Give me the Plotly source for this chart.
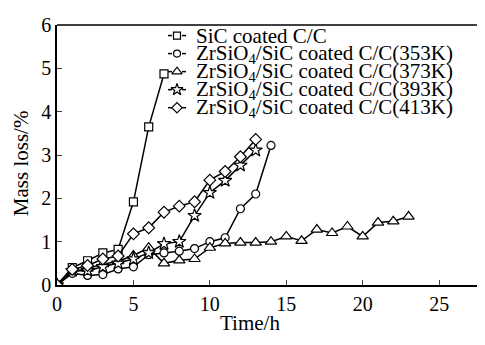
import plotly.graph_objects as go

# Data (Time/h vs Mass loss/%)
t_sic = [0, 1, 2, 3, 4, 5, 6, 7]
m_sic = [0, 0.40, 0.56, 0.74, 0.82, 1.92, 3.65, 4.87]

t_353 = list(range(0, 15))
m_353 = [0, 0.27, 0.22, 0.24, 0.37, 0.42, 0.70, 0.74, 0.78, 0.84, 1.00, 1.09, 1.76, 2.10, 3.22]

t_373 = list(range(0, 24))
m_373 = [0, 0.30, 0.38, 0.48, 0.55, 0.68, 0.86, 0.50, 0.57, 0.60, 0.86, 0.96, 0.98, 0.98,
         1.00, 1.12, 1.02, 1.28, 1.20, 1.35, 1.12, 1.44, 1.47, 1.58]

t_393 = list(range(0, 14))
m_393 = [0, 0.33, 0.33, 0.42, 0.50, 0.60, 0.74, 0.95, 1.00, 1.60, 2.13, 2.41, 2.76, 3.11]

t_413 = list(range(0, 14))
m_413 = [0, 0.36, 0.45, 0.60, 0.67, 1.18, 1.32, 1.68, 1.82, 1.92, 2.42, 2.62, 2.96, 3.36]

x_ticks = [0, 5, 10, 15, 20, 25]
y_ticks = [0, 1, 2, 3, 4, 5, 6]
X_MAX, Y_MAX = 28, 6

names = ["SiC coated C/C",
         "ZrSiO<sub>4</sub>/SiC coated C/C(353K)",
         "ZrSiO<sub>4</sub>/SiC coated C/C(373K)",
         "ZrSiO<sub>4</sub>/SiC coated C/C(393K)",
         "ZrSiO<sub>4</sub>/SiC coated C/C(413K)"]
symbols = ["square", "circle", "triangle-up", "star", "diamond"]
sizes = [8, 8, 10, 10, 9]
series = [(t_sic, m_sic), (t_353, m_353), (t_373, m_373), (t_393, m_393), (t_413, m_413)]

FONT = "Liberation Serif, Times New Roman, serif"

# The page has an 8px body margin before the figure.
PAGE_OFF = 8
PLOT_L, PLOT_R, PLOT_T, PLOT_B = 57, 485, 14, 285  # plot-area edges in page pixels
pw = PLOT_R - PLOT_L
ph = PLOT_B - PLOT_T


def px_to_x(px):
    return (px - PLOT_L) / pw * X_MAX


def py_to_y(py):
    return (PLOT_B - py) / ph * Y_MAX


fig = go.Figure()
for (x, y), n, s, sz in zip(series, names, symbols, sizes):
    fig.add_trace(go.Scatter(
        x=x, y=y, name=n, mode="lines+markers", showlegend=False,
        line=dict(color="black", width=1.5),
        marker=dict(symbol=s, size=sz, color="white", line=dict(color="black", width=1.2)),
    ))

# Hand-drawn legend ("-□-" style keys), placed in page pixels
LEG_MARK_X = 177
LEG_TEXT_X = 194
LEG_ROW0 = 25
LEG_DY = 18.8
annotations = []
for i, (n, s, sz) in enumerate(zip(names, symbols, sizes)):
    yy = LEG_ROW0 + i * LEG_DY
    fig.add_trace(go.Scatter(
        x=[px_to_x(LEG_MARK_X - 9), px_to_x(LEG_MARK_X - 5), None,
           px_to_x(LEG_MARK_X + 5), px_to_x(LEG_MARK_X + 9)],
        y=[py_to_y(yy)] * 2 + [None] + [py_to_y(yy)] * 2,
        mode="lines", showlegend=False, hoverinfo="skip",
        line=dict(color="black", width=1.5)))
    fig.add_trace(go.Scatter(
        x=[px_to_x(LEG_MARK_X)], y=[py_to_y(yy)], mode="markers", showlegend=False,
        hoverinfo="skip",
        marker=dict(symbol=s, size=sz - 1, color="white", line=dict(color="black", width=1.2))))
    annotations.append(dict(text=n, x=(LEG_TEXT_X - PLOT_L) / pw, y=(PLOT_B - yy) / ph,
                            xref="paper", yref="paper",
                            xanchor="left", yanchor="middle", showarrow=False,
                            font=dict(size=21, family=FONT)))

W, H = 485, 345

annotations += [
    dict(text="Time/h", xref="paper", yref="paper", x=(250 - PLOT_L) / pw,
         y=-(325 - PLOT_B) / ph, xanchor="center", yanchor="middle", showarrow=False,
         font=dict(size=21, family=FONT)),
    dict(text="Mass loss/%", xref="paper", yref="paper", x=(21 - PLOT_L) / pw,
         y=(PLOT_B - 158) / ph, xanchor="center", yanchor="middle", textangle=-90,
         showarrow=False, font=dict(size=21, family=FONT)),
]

fig.update_layout(
    width=W, height=H,
    margin=dict(l=PLOT_L - PAGE_OFF, r=W + PAGE_OFF - PLOT_R, t=PLOT_T - PAGE_OFF,
                b=H + PAGE_OFF - PLOT_B, pad=0),
    paper_bgcolor="white", plot_bgcolor="white",
    font=dict(family=FONT, size=20, color="black"),
    showlegend=False,
    xaxis=dict(range=[0, X_MAX], tickvals=x_ticks, ticks="inside", ticklen=5, tickwidth=1.2,
               showline=True, linecolor="black", linewidth=1.5,
               showgrid=False, zeroline=False, tickfont=dict(size=20),
               ticklabeloverflow="allow"),
    yaxis=dict(range=[0, Y_MAX], tickvals=y_ticks, ticks="inside", ticklen=5, tickwidth=1.2,
               showline=True, linecolor="black", linewidth=1.5,
               showgrid=False, zeroline=False, tickfont=dict(size=20),
               ticklabeloverflow="allow"),
    shapes=[dict(type="line", xref="paper", yref="paper", x0=0, x1=1, y0=1, y1=1,
                 line=dict(color="black", width=1.5), layer="above")],
    annotations=annotations,
)

fig.write_html("out.html")
